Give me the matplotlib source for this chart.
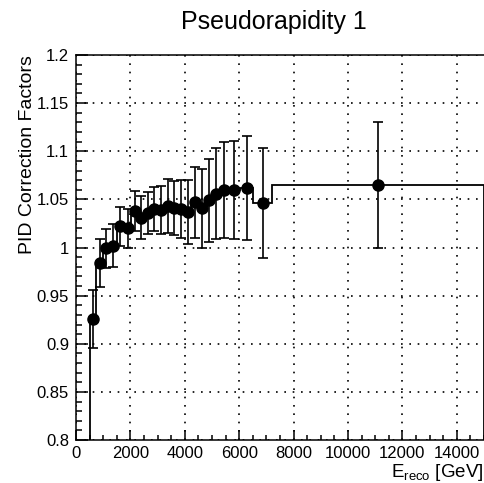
import numpy as np
import matplotlib
matplotlib.use("Agg")
import matplotlib.pyplot as plt
from matplotlib.ticker import MultipleLocator, FormatStrFormatter

plt.rcParams['font.family'] = ['Liberation Sans', 'DejaVu Sans']
plt.rcParams['mathtext.fontset'] = 'custom'
plt.rcParams['mathtext.rm'] = 'Liberation Sans'
plt.rcParams['mathtext.it'] = 'Liberation Sans'

# bin edges (GeV) and the correction factor of each bin
edges = [500, 740, 990, 1240, 1490, 1760, 2030, 2280, 2510, 2750, 2990, 3240,
         3490, 3740, 3980, 4230, 4490, 4760, 5010, 5290, 5610, 6030, 6520, 7200, 15000]
factors = [0.926, 0.984, 0.999, 1.002, 1.022, 1.020, 1.038, 1.031, 1.036, 1.040,
           1.039, 1.043, 1.041, 1.040, 1.037, 1.047, 1.041, 1.049, 1.056, 1.060,
           1.060, 1.062, 1.046, 1.065]
errors = [0.030, 0.025, 0.020, 0.022, 0.020, 0.020, 0.021, 0.022, 0.022, 0.023,
          0.025, 0.028, 0.028, 0.030, 0.033, 0.037, 0.041, 0.043, 0.047, 0.050,
          0.051, 0.054, 0.057, 0.065]

edges = np.array(edges, dtype=float)
centers = 0.5 * (edges[:-1] + edges[1:])

fig = plt.figure(figsize=(4.84, 4.83), dpi=100)
ax = fig.add_axes([76/484, 43/483, 408/484, 385/483])

# histogram outline, then the points with error bars
ax.stairs(factors, edges, baseline=0, color='black', lw=1.3, zorder=3)
ax.errorbar(centers, factors, yerr=errors, fmt='o', color='black', ms=8,
            elinewidth=1.2, capsize=3.6, capthick=1.2, zorder=4)

ax.set_xlim(0, 15000)
ax.set_ylim(0.8, 1.2)
ax.xaxis.set_major_locator(MultipleLocator(2000))
ax.xaxis.set_minor_locator(MultipleLocator(500))
ax.yaxis.set_major_locator(MultipleLocator(0.05))
ax.yaxis.set_minor_locator(MultipleLocator(0.01))
ax.xaxis.set_major_formatter(FormatStrFormatter('%g'))
ax.yaxis.set_major_formatter(FormatStrFormatter('%g'))

ax.tick_params(axis='both', which='both', direction='in', width=1.1, labelsize=12)
ax.tick_params(axis='y', which='major', length=8.6, pad=5)
ax.tick_params(axis='y', which='minor', length=4.3)
ax.tick_params(axis='x', which='major', length=7.2, pad=4)
ax.tick_params(axis='x', which='minor', length=3.6)

ax.grid(True, which='major', color='black', lw=1.2, linestyle=(0, (1, 4)))
ax.set_axisbelow(True)
ax.spines['right'].set_visible(False)
for s in ['left', 'bottom', 'top']:
    ax.spines[s].set_linewidth(1.1)

ax.set_ylabel('PID Correction Factors', fontsize=14, loc='top')
ax.yaxis.set_label_coords(-0.098, 1.0)
ax.set_xlabel(r'E$_{\mathrm{reco}}$ [GeV]', fontsize=13.5, loc='right')
ax.xaxis.set_label_coords(1.0, -0.056)

fig.text(274/484, 1 - 22/483, 'Pseudorapidity 1', fontsize=18, ha='center', va='center')

fig.savefig('out.png', dpi=100)
